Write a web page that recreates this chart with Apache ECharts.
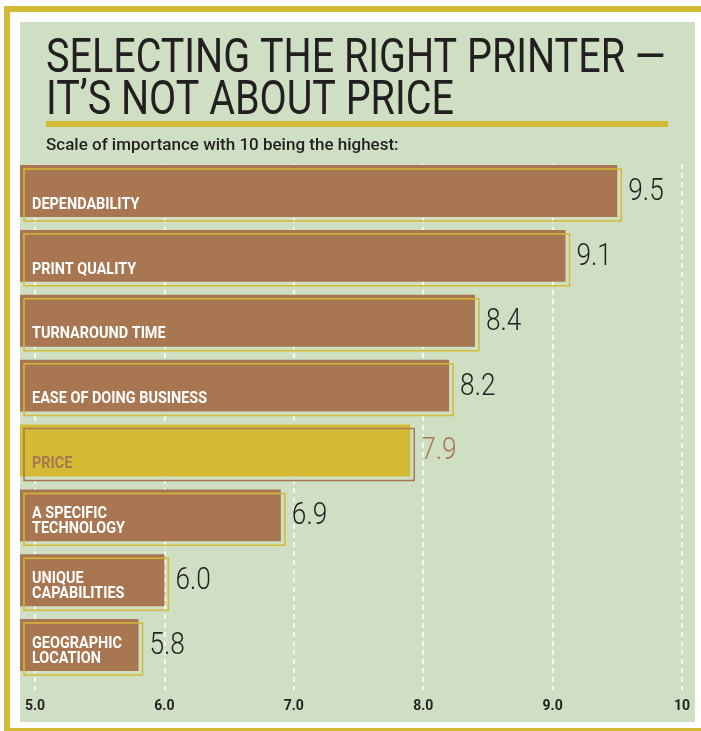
<!DOCTYPE html>
<html>
<head>
<meta charset="utf-8">
<script src="https://cdn.jsdelivr.net/npm/echarts@6/dist/echarts.min.js"></script>
<style>
html,body{margin:0;padding:0;background:#ffffff;}
#chart{width:701px;height:731px;}
</style>
</head>
<body>
<div id="chart"></div>
<script>
const categories = ['DEPENDABILITY','PRINT QUALITY','TURNAROUND TIME','EASE OF DOING BUSINESS','PRICE','A SPECIFIC\nTECHNOLOGY','UNIQUE\nCAPABILITIES','GEOGRAPHIC\nLOCATION'];
const values = [9.5, 9.1, 8.4, 8.2, 7.9, 6.9, 6.0, 5.8];
const tickLabels = ['5.0','6.0','7.0','8.0','9.0','10'];
const titleLines = ['SELECTING THE RIGHT PRINTER —', 'IT\u2019S NOT ABOUT PRICE'];
const subtitle = 'Scale of importance with 10 being the highest:';

const BROWN = '#a87752';
const YELLOW = '#d4bb35';
const GREEN = '#cfdfc3';
const DARK = '#231f20';

const chart = echarts.init(document.getElementById('chart'), null, {renderer:'canvas'});

const option = {
  animation: false,
  backgroundColor: '#ffffff',
  graphic: [
    {type:'rect', shape:{x:20,y:22,width:675,height:700}, style:{fill:GREEN}, z:-10},
    {type:'rect', shape:{x:4,y:6,width:697,height:6}, style:{fill:YELLOW}, z:-10},
    {type:'rect', shape:{x:4,y:6,width:6,height:725}, style:{fill:YELLOW}, z:-10},
    {type:'rect', shape:{x:4,y:728,width:697,height:3}, style:{fill:YELLOW}, z:-10},
    {type:'text', x:46, y:59.5, scaleX:0.823, style:{text:titleLines[0], fill:DARK, font:'400 48px Roboto', verticalAlign:'middle', align:'left'}},
    {type:'text', x:46, y:101.5, scaleX:0.823, style:{text:titleLines[1], fill:DARK, font:'400 48px Roboto', verticalAlign:'middle', align:'left'}},
    {type:'rect', shape:{x:46,y:121,width:622,height:6}, style:{fill:YELLOW}},
    {type:'text', x:46, y:146, style:{text:subtitle, fill:DARK, font:'500 17px Roboto', verticalAlign:'middle', align:'left'}}
  ],
  grid: [
    {left:35, right:19, top:158.6, height:518.9, containLabel:false},
    {left:35, right:19, top:164, bottom:41, containLabel:false}
  ],
  xAxis: [
    {gridIndex:0, type:'value', min:5, max:10, interval:1, show:false},
    {gridIndex:1, type:'value', min:5, max:10, interval:1,
      axisLine:{show:false}, axisTick:{show:false},
      splitLine:{show:true, lineStyle:{color:'#ffffff', width:1.5, type:[5,4]}},
      axisLabel:{margin:9, color:DARK, fontFamily:'Roboto', fontWeight:'bold', fontSize:14,
        formatter:function(v){ return tickLabels[Math.round(v-5)]; }}
    }
  ],
  yAxis: [
    {gridIndex:0, type:'category', data:categories, inverse:true, show:false},
    {gridIndex:1, type:'value', show:false}
  ],
  series: [{
    type:'custom',
    xAxisIndex:0, yAxisIndex:0,
    data: values.map(function(v,i){ return [v,i]; }),
    renderItem: function(params, api){
      const v = api.value(0), idx = api.value(1);
      const end = api.coord([v, idx]);
      const start = api.coord([5, idx]);
      const h = api.size([0,1])[1]*0.8;
      const x0 = start[0]-15;
      const y0 = end[1]-h/2;
      const w = end[0]-x0;
      const isPrice = categories[idx] === 'PRICE';
      const fillC = isPrice ? YELLOW : BROWN;
      const outC = isPrice ? BROWN : YELLOW;
      const labC = isPrice ? BROWN : '#ffffff';
      const valC = isPrice ? BROWN : DARK;
      return {type:'group', children:[
        {type:'rect', shape:{x:x0,y:y0,width:w,height:h}, style:{fill:fillC}},
        {type:'rect', shape:{x:x0+4,y:y0+4,width:w,height:h}, style:{fill:null, stroke:outC, lineWidth:1.5}},
        {type:'text', x:x0+12, y:y0+h-5, scaleX:0.85, style:{text:categories[idx], fill:labC, font:'bold 17px Roboto', align:'left', verticalAlign:'bottom', lineHeight:15}},
        {type:'text', x:end[0]+11, y:end[1]+1, scaleX:0.82, style:{text:v.toFixed(1), fill:valC, font:'300 32px Roboto', align:'left', verticalAlign:'middle'}}
      ]};
    }
  }]
};
chart.setOption(option);
</script>
</body>
</html>
